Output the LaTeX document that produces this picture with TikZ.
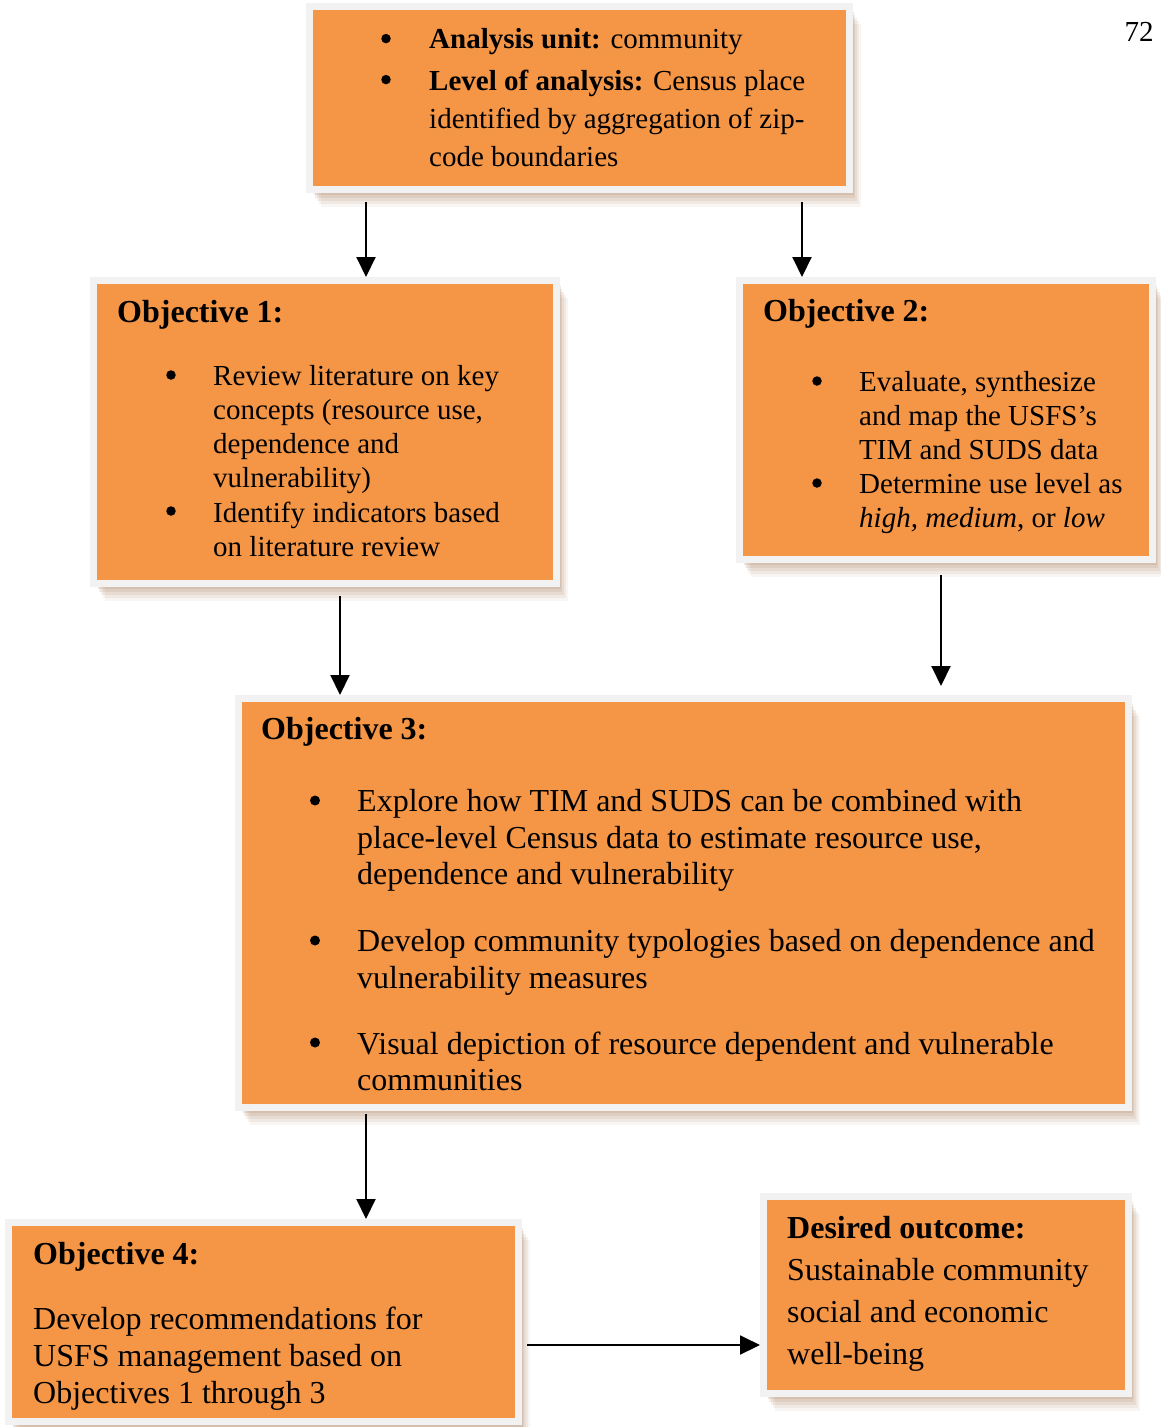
\documentclass[tikz,border=0pt]{standalone}
\usepackage{fontspec}
\setmainfont{Liberation Serif}
\usetikzlibrary{positioning, arrows.meta, shadows, calc}
\definecolor{boxorange}{HTML}{F59647}
\definecolor{boxrim}{HTML}{F2F2F2}
\definecolor{boxshade}{HTML}{A0704A}

\begin{document}
\begin{tikzpicture}[x=1pt, y=-1pt,
    obox/.style={draw=boxrim, line width=7pt, fill=boxorange, inner sep=0pt,
      drop shadow={shadow xshift=11pt, shadow yshift=-17pt, opacity=.07, fill=boxshade},
      drop shadow={shadow xshift=9pt, shadow yshift=-14pt, opacity=.09, fill=boxshade},
      drop shadow={shadow xshift=7pt, shadow yshift=-11pt, opacity=.11, fill=boxshade},
      drop shadow={shadow xshift=5pt, shadow yshift=-8pt, opacity=.13, fill=boxshade},
      drop shadow={shadow xshift=4pt, shadow yshift=-5pt, opacity=.15, fill=boxshade}},
    txt/.style={anchor=north west, inner sep=0pt, align=left},
    hd/.style={txt, font=\bfseries\fontsize{32}{36}\selectfont},
    bul/.style={circle, fill=black, inner sep=0pt, minimum size=9.5pt},
    arr/.style={-{Triangle[length=20pt, width=19pt]}, line width=2pt}]
  \useasboundingbox (0,0) rectangle (1160,1427);

  % boxes
  \node[obox, minimum width=540pt, minimum height=183pt] (unit) at (579.5,98) {};
  \node[obox, minimum width=463pt, minimum height=303pt] (obj1) at (325,432) {};
  \node[obox, minimum width=413pt, minimum height=279pt] (obj2) at (946,420) {};
  \node[obox, minimum width=890pt, minimum height=409pt] (obj3) at (683.5,903) {};
  \node[obox, minimum width=510pt, minimum height=199pt] (obj4) at (263.5,1322) {};
  \node[obox, minimum width=365pt, minimum height=197pt] (goal) at (946,1295) {};

  \node[font=\fontsize{29}{34}\selectfont] (page) at (1139,32) {72};

  % analysis unit
  \node[bul] (b01) at (386,38.6) {};
  \node[txt, font=\fontsize{29}{38}\selectfont] (t01) at (429,28.5) {\textbf{Analysis unit:} community};
  \node[bul] (b02) at (386,79.6) {};
  \node[txt, font=\fontsize{29}{38}\selectfont] (t02) at (429,69.5)
    {\textbf{Level of analysis:} Census place\\identified by aggregation of zip-\\code boundaries};

  % objective 1
  \node[hd] (h1) at (117,300.5) {Objective 1:};
  \node[bul] (b11) at (171,375) {};
  \node[txt, font=\fontsize{29}{34}\selectfont] (t11) at (213,365.5)
    {Review literature on key\\concepts (resource use,\\dependence and\\vulnerability)};
  \node[bul] (b12) at (171,511) {};
  \node[txt, font=\fontsize{29}{34}\selectfont] (t12) at (213,501.5)
    {Identify indicators based\\on literature review};

  % objective 2
  \node[hd] (h2) at (763,299.5) {Objective 2:};
  \node[bul] (b21) at (817,381) {};
  \node[txt, font=\fontsize{29}{34}\selectfont] (t21) at (859,371.5)
    {Evaluate, synthesize\\and map the USFS’s\\TIM and SUDS data};
  \node[bul] (b22) at (817,483) {};
  \node[txt, font=\fontsize{29}{34}\selectfont] (t22) at (859,473.5)
    {Determine use level as\\\textit{high, medium}, or \textit{low}};

  % objective 3
  \node[hd] (h3) at (261,717.5) {Objective 3:};
  \node[bul, minimum size=10pt] (b31) at (315,800.5) {};
  \node[txt, font=\fontsize{32}{36.5}\selectfont] (t31) at (357,789.5)
    {Explore how TIM and SUDS can be combined with\\place-level Census data to estimate resource use,\\dependence and vulnerability};
  \node[bul, minimum size=10pt] (b32) at (315,940.5) {};
  \node[txt, font=\fontsize{32}{36.5}\selectfont] (t32) at (357,929.5)
    {Develop community typologies based on dependence and\\vulnerability measures};
  \node[bul, minimum size=10pt] (b33) at (315,1042.5) {};
  \node[txt, font=\fontsize{32}{36.5}\selectfont] (t33) at (357,1031.5)
    {Visual depiction of resource dependent and vulnerable\\communities};

  % objective 4 and outcome
  \node[hd] (h4) at (33,1242.5) {Objective 4:};
  \node[txt, font=\fontsize{32}{37}\selectfont] (t4) at (33,1306.5)
    {Develop recommendations for\\USFS management based on\\Objectives 1 through 3};
  \node[txt, font=\fontsize{32}{42}\selectfont] (t5) at (787,1216.5)
    {\textbf{Desired outcome:}\\Sustainable community\\social and economic\\well-being};

  % arrows
  \coordinate (s1) at ([xshift=-213.5pt, yshift=-9pt]unit.south);
  \coordinate (s2) at ([xshift=222.5pt, yshift=-9pt]unit.south);
  \coordinate (s3) at ([xshift=15pt, yshift=-9pt]obj1.south);
  \coordinate (s4) at ([xshift=-5pt, yshift=-12pt]obj2.south);
  \coordinate (s5) at ([xshift=-317.5pt, yshift=-3pt]obj3.south);
  \coordinate (s6) at ([xshift=5pt, yshift=-23pt]obj4.east);
  \draw[arr] (s1) -- (s1 |- obj1.north);
  \draw[arr] (s2) -- (s2 |- obj2.north);
  \draw[arr] (s3) -- (s3 |- obj3.north);
  \draw[arr, shorten >=9pt] (s4) -- (s4 |- obj3.north);
  \draw[arr] (s5) -- (s5 |- obj4.north);
  \draw[arr] (s6) -- (s6 -| goal.west);
\end{tikzpicture}
\end{document}
